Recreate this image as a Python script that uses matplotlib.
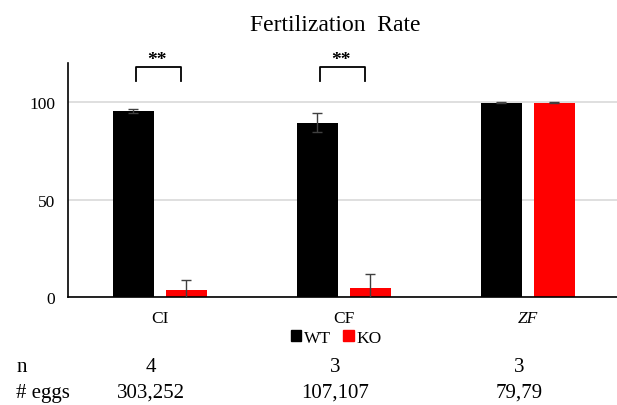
import matplotlib.pyplot as plt
import numpy as np
from matplotlib.patches import Patch
import matplotlib.transforms as mtransforms

plt.rcParams['font.family'] = ['Liberation Serif', 'DejaVu Serif']

# 数据
categories = ['CI', 'CF', 'ZF']
wt_values = [95.5, 89.5, 99.7]
wt_errors = [1.2, 5.0, 0.3]
ko_values = [3.6, 4.8, 99.7]
ko_errors = [5.0, 7.0, 0.3]
n_values = ['4', '3', '3']
egg_values = ['303,252', '107,107', '79,79']
sig_labels = ['**', '**', '']

fig = plt.figure(figsize=(6.17, 4.06), dpi=100)
ax = fig.add_axes([0.110, 0.266, 0.890, 0.576])

x = np.arange(len(categories))
w = 0.223
off = 0.144
ax.bar(x - off, wt_values, w, color='black', label='WT', zorder=2)
ax.bar(x + off, ko_values, w, color='#ff0000', label='KO', zorder=2)
ax.errorbar(x - off, wt_values, yerr=wt_errors, fmt='none', ecolor='#404040',
            elinewidth=1, capsize=3.5, capthick=1, zorder=3)
ax.errorbar(x + off, ko_values, yerr=ko_errors, fmt='none', ecolor='#404040',
            elinewidth=1, capsize=3.5, capthick=1, zorder=3)

# 显著性括号
for i, s in enumerate(sig_labels):
    if not s:
        continue
    x0, x1 = i - 0.13, i + 0.115
    ax.plot([x0, x0, x1, x1], [111, 118.2, 118.2, 111], color='black', lw=1.3,
            clip_on=False, zorder=4)
    ax.text(i - 0.015, 122, s, ha='center', va='center', fontsize=14,
            fontweight='bold', clip_on=False)

ax.set_xlim(-0.5, -0.5 + 549 / 184)
ax.set_ylim(0, 120)
ax.set_yticks([0, 50, 100])
ax.set_xticks(x)
ax.set_xticklabels(categories)
ax.get_xticklabels()[2].set_style('italic')
ax.yaxis.grid(True, color='#d9d9d9', lw=1.2, zorder=0)
ax.set_axisbelow(True)
for sp in ['top', 'right']:
    ax.spines[sp].set_visible(False)
ax.spines['left'].set_linewidth(1.2)
ax.spines['bottom'].set_linewidth(1.2)
ax.tick_params(axis='both', length=0, labelsize=12.5)
ax.tick_params(axis='y', pad=9)
ax.tick_params(axis='x', pad=9)

fig.text(0.543, 0.937, 'Fertilization  Rate', ha='center', va='center', fontsize=17)

handles = [Patch(color='black'), Patch(color='#ff0000')]
fig.legend(handles, ['WT', 'KO'], loc='center', bbox_to_anchor=(0.545, 0.165),
           ncol=2, frameon=False, fontsize=12.5, handlelength=0.6, handleheight=0.6,
           handletextpad=0.15, columnspacing=0.7)

# 表格行
trans = mtransforms.blended_transform_factory(ax.transData, fig.transFigure)
fig.text(0.026, 0.094, 'n', ha='left', va='center', fontsize=15)
fig.text(0.026, 0.032, '# eggs', ha='left', va='center', fontsize=15)
for i in range(len(categories)):
    ax.text(i - 0.05, 0.094, n_values[i], transform=trans, ha='center', va='center', fontsize=15)
    ax.text(i - 0.05, 0.032, egg_values[i], transform=trans, ha='center', va='center', fontsize=15)

fig.savefig('out.png', dpi=100)
